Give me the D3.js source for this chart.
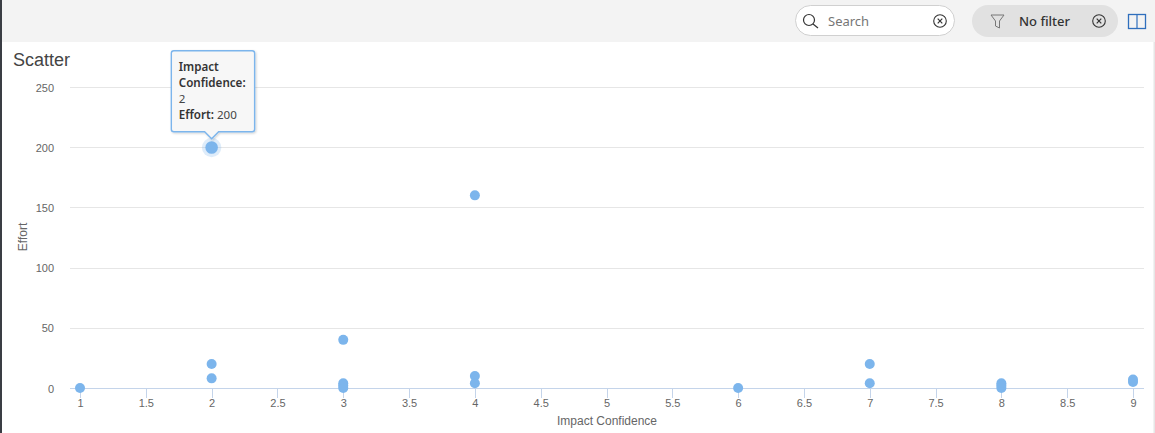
<!DOCTYPE html>
<html><head><meta charset="utf-8">
<script src="https://cdn.jsdelivr.net/npm/d3@7"></script>
<style>
html,body{margin:0;padding:0;background:#fff;overflow:hidden}
svg{display:block}
text{font-family:"Liberation Sans",Arial,sans-serif}
.ui{font-family:"Noto Sans","Open Sans",sans-serif}
</style></head><body>
<svg id="c" width="1155" height="433"></svg>
<script>
const chartTitle = "Scatter";
const xTitle = "Impact Confidence";
const yTitle = "Effort";
const xTicks = [1,1.5,2,2.5,3,3.5,4,4.5,5,5.5,6,6.5,7,7.5,8,8.5,9];
const yTicks = [0,50,100,150,200,250];
const impact = [1,2,2,3,3,3,3,4,4,4,6,7,7,8,8,8,9,9];
const effort = [0,20,8,40,4,2,0,160,10,4,0,20,4,4,2,0,5,7];
const hovered = {x:2, y:200};

const svg = d3.select("#c");
const defs = svg.append("defs");
const f = defs.append("filter").attr("id","ts").attr("x","-20%").attr("y","-20%").attr("width","140%").attr("height","140%");
f.append("feDropShadow").attr("dx",1).attr("dy",1).attr("stdDeviation",1).attr("flood-color","#000").attr("flood-opacity",.18);
const x = d3.scaleLinear().domain([1,9]).range([80,1133]);
const y = d3.scaleLinear().domain([0,250]).range([388,87]);

// toolbar
svg.append("rect").attr("width",1155).attr("height",42).attr("fill","#f3f3f3");
svg.append("rect").attr("x",0).attr("y",0).attr("width",2).attr("height",433).attr("fill","#3a3d44");
svg.append("rect").attr("x",1153.5).attr("y",42).attr("width",1.5).attr("height",391).attr("fill","#e6e6e6");
svg.append("rect").attr("x",795.5).attr("y",5.5).attr("width",159).attr("height",30).attr("rx",15).attr("fill","#fff").attr("stroke","#d0d0d0");
svg.append("circle").attr("cx",809).attr("cy",20).attr("r",5.5).attr("fill","none").attr("stroke","#333").attr("stroke-width",1.2);
svg.append("line").attr("x1",813).attr("y1",24).attr("x2",818).attr("y2",28).attr("stroke","#333").attr("stroke-width",1.2);
svg.append("text").attr("class","ui").attr("x",828).attr("y",26).attr("font-size",13).attr("fill","#767676").text("Search");
function clearIcon(cx,cy){
  svg.append("circle").attr("cx",cx).attr("cy",cy).attr("r",6.3).attr("fill","none").attr("stroke","#333").attr("stroke-width",1.1);
  svg.append("path").attr("d",`M${cx-2.3},${cy-2.3}L${cx+2.3},${cy+2.3}M${cx+2.3},${cy-2.3}L${cx-2.3},${cy+2.3}`).attr("stroke","#333").attr("stroke-width",1.2);
}
clearIcon(940,21);
svg.append("rect").attr("x",972).attr("y",5).attr("width",146).attr("height",32).attr("rx",16).attr("fill","#e1e1e1");
svg.append("path").attr("d","M991,15L1004,15L999.5,21L999.5,28L995.5,26L995.5,21Z").attr("fill","none").attr("stroke","#777").attr("stroke-width",1);
svg.append("text").attr("class","ui").attr("x",1019).attr("y",26).attr("font-size",13).attr("font-weight",500).attr("fill","#333").text("No filter");
clearIcon(1099,21);
svg.append("rect").attr("x",1128.5).attr("y",14.5).attr("width",17).attr("height",14).attr("fill","none").attr("stroke","#2f6fbd").attr("stroke-width",1.3);
svg.append("line").attr("x1",1137).attr("x2",1137).attr("y1",14.5).attr("y2",28.5).attr("stroke","#2f6fbd").attr("stroke-width",1.2);

// title
svg.append("text").attr("x",13).attr("y",66).attr("font-size",18).attr("fill","#444").text(chartTitle);

// grid + y labels
svg.append("g").selectAll("line").data(yTicks.filter(d=>d>0)).join("line")
  .attr("x1",70).attr("x2",1144).attr("y1",d=>Math.round(y(d))+.5).attr("y2",d=>Math.round(y(d))+.5)
  .attr("stroke","#e6e6e6");
svg.append("g").selectAll("text").data(yTicks).join("text")
  .attr("x",54).attr("y",d=>y(d)+4.5).attr("text-anchor","end").attr("font-size",11).attr("fill","#666").text(d=>d);

// x axis
svg.append("line").attr("x1",70).attr("x2",1144).attr("y1",388.5).attr("y2",388.5).attr("stroke","#c4d4ea");
svg.append("g").selectAll("line").data(xTicks).join("line")
  .attr("x1",d=>Math.round(x(d))+.5).attr("x2",d=>Math.round(x(d))+.5).attr("y1",388).attr("y2",398).attr("stroke","#c4d4ea");
svg.append("g").selectAll("text").data(xTicks).join("text")
  .attr("x",d=>x(d)+.5).attr("y",407).attr("text-anchor","middle").attr("font-size",11).attr("fill","#666").text(d=>d);

// axis titles
svg.append("text").attr("x",607).attr("y",425).attr("text-anchor","middle").attr("font-size",12).attr("fill","#666").text(xTitle);
svg.append("text").attr("transform",`translate(27,237) rotate(-90)`).attr("text-anchor","middle").attr("font-size",12).attr("fill","#666").text(yTitle);

// points
svg.append("g").selectAll("circle").data(impact.map((d,i)=>[d,effort[i]])).join("circle")
  .attr("cx",d=>x(d[0])).attr("cy",d=>y(d[1])).attr("r",5).attr("fill","#7cb5ec");

// hovered point
const hx=x(hovered.x), hy=y(hovered.y)+.3;
svg.append("circle").attr("cx",hx).attr("cy",hy).attr("r",9.7).attr("fill","#7cb5ec").attr("opacity",.25);
svg.append("circle").attr("cx",hx).attr("cy",hy).attr("r",6.3).attr("fill","#7cb5ec");

// tooltip
const L=hx-40.3,R=hx+43,T=hy-96.7,B=hy-15.7,r=2.5;
const tipPath=`M${L+r},${T}H${R-r}Q${R},${T} ${R},${T+r}V${B-r}Q${R},${B} ${R-r},${B}H${hx+7}L${hx},${B+7}L${hx-7},${B}H${L+r}Q${L},${B} ${L},${B-r}V${T+r}Q${L},${T} ${L+r},${T}Z`;
svg.append("path").attr("d",tipPath).attr("fill","#f7f7f7").attr("stroke","#7cb5ec").attr("stroke-width",1.4).attr("filter","url(#ts)");
const tx=L+7.5;
const lines=[["Impact",null],["Confidence:",null],[null,String(hovered.x)],["Effort:",String(hovered.y)]];
lines.forEach((l,i)=>{
  const t=svg.append("text").attr("class","ui").attr("x",tx).attr("y",T+20.5+i*16).attr("font-size",11.6).attr("fill","#333");
  if(l[0]) t.append("tspan").attr("font-weight",600).text(l[0]);
  if(l[1]) t.append("tspan").attr("fill","#444").text((l[0]?"\u00a0":"")+l[1]);
});
</script></body></html>
